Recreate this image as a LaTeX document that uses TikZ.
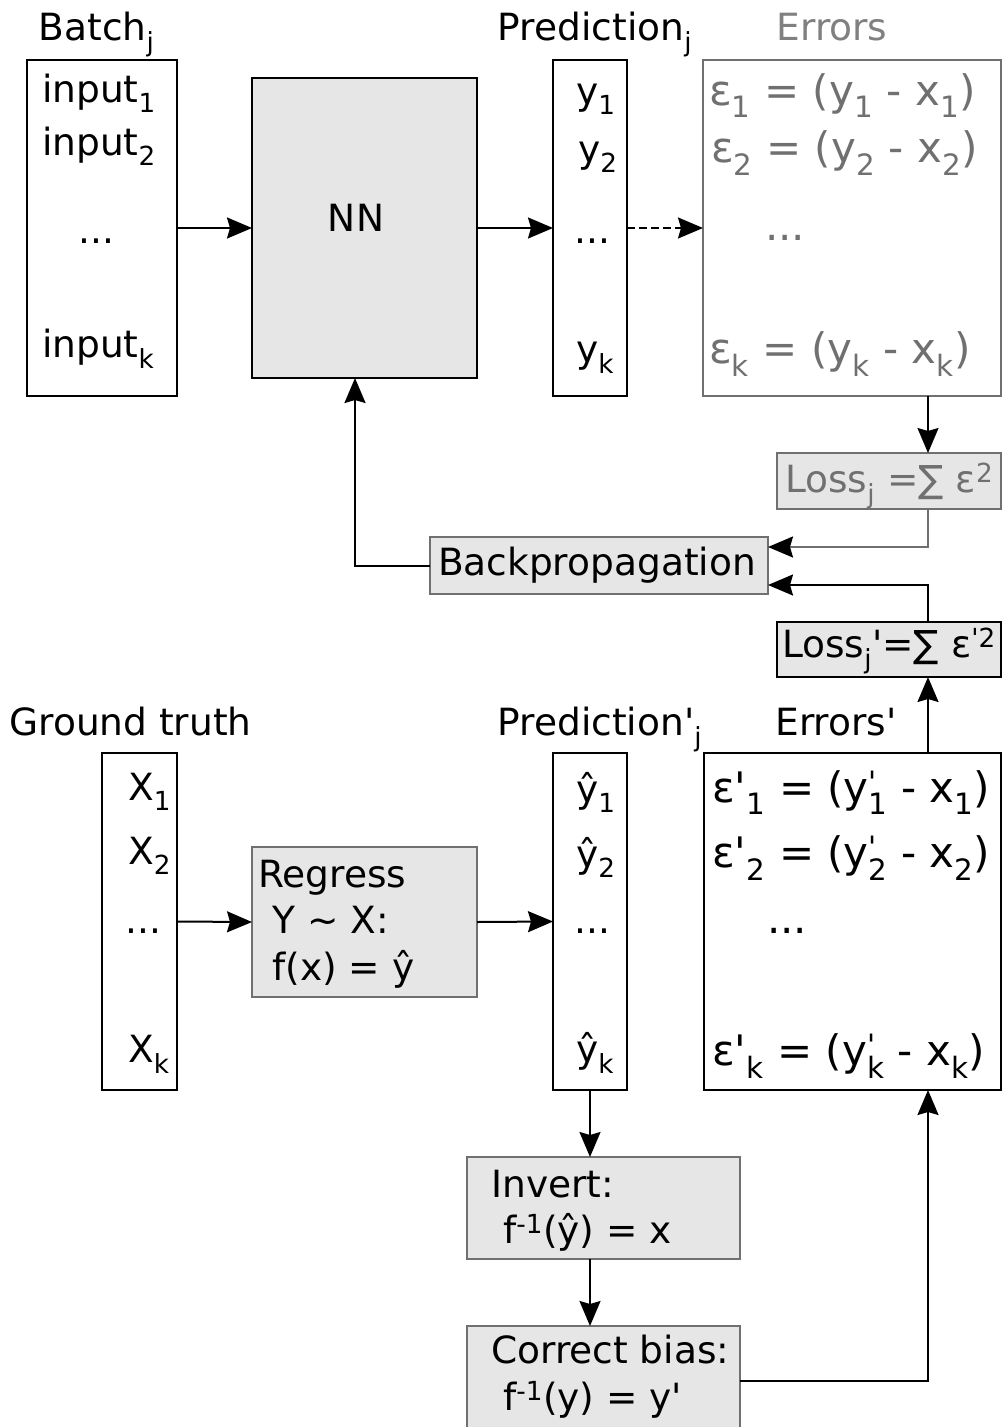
\documentclass[tikz,border=0pt]{standalone}
\usepackage{fontspec}
\newfontfamily\mainf{DejaVu Sans}
\usetikzlibrary{arrows.meta}
\definecolor{fillg}{RGB}{230,230,230}
\definecolor{txtg}{RGB}{112,112,112}
\definecolor{lblg}{RGB}{128,128,128}
\definecolor{brdg}{RGB}{112,112,112}
\newcommand{\sbsp}[2]{\makebox[0pt][l]{\textsuperscript{#1}}\textsubscript{#2}}
\newcommand{\fs}[1]{\mainf\fontsize{#1}{#1}\selectfont}
\begin{document}
\begin{tikzpicture}[x=1pt,y=-1pt, font=\fs{37.5},
  box/.style={draw, line width=2pt, inner sep=0pt, outer sep=0pt},
  gbox/.style={box, fill=fillg},
  tl/.style={anchor=base west, inner sep=0pt},
  lbl/.style={anchor=base, inner sep=0pt},
  big/.style={font=\fs{42}},
  arr/.style={line width=2pt, -{Stealth[length=25pt,width=21pt,inset=3pt,color=black]}},
]
\useasboundingbox (0,0) rectangle (1003,1427);
% ---- boxes
\node[box, minimum width=150pt, minimum height=336pt] (batch) at (102,228) {};
\node[gbox, minimum width=225pt, minimum height=300pt] (nn) at (364.5,228) {};
\node[box, minimum width=74pt, minimum height=336pt] (pred) at (590,228) {};
\node[box, draw=brdg, minimum width=298pt, minimum height=336pt] (err) at (852,228) {};
\node[gbox, draw=brdg, minimum width=224pt, minimum height=56pt] (loss) at (889,481) {};
\node[gbox, draw=brdg, minimum width=338pt, minimum height=57pt] (bp) at (599,565.5) {};
\node[gbox, minimum width=224pt, minimum height=55pt] (lossp) at (889,649.5) {};
\node[box, minimum width=297pt, minimum height=337pt] (errp) at (852.5,921.5) {};
\node[box, minimum width=75pt, minimum height=337pt] (gt) at (139.5,921.5) {};
\node[gbox, draw=brdg, minimum width=225pt, minimum height=150pt] (reg) at (364.5,922) {};
\node[box, minimum width=74pt, minimum height=337pt] (predp) at (590,921.5) {};
\node[gbox, draw=brdg, minimum width=273pt, minimum height=102pt] (inv) at (603.5,1208) {};
\node[gbox, draw=brdg, minimum width=273pt, minimum height=110pt] (cor) at (603.5,1381) {};
% ---- helper coordinates
\coordinate (cx) at (928,0);
\coordinate (bpa) at (768,547);
\coordinate (bpb) at (768,585);
\coordinate (nnin) at (355,378);
% ---- titles
\node[lbl] (tbatch) at (96.5,40) {Batch\textsubscript{j}};
\node[lbl] (tpred) at (595,40) {Prediction\textsubscript{j}};
\node[lbl, text=lblg] (terr) at (832,40) {Errors};
\node[lbl] (tgt) at (130.5,735) {Ground truth};
\node[lbl] (tpredp) at (600,735) {Prediction'\textsubscript{j}};
\node[lbl] (terrp) at (836,735) {Errors'};
% ---- batch contents
\node[tl] (in1) at (42,102) {input\textsubscript{1}};
\node[tl] (in2) at (42,155) {input\textsubscript{2}};
\node[tl] (ind) at (78,243) {...};
\node[tl] (ink) at (42,357) {input\textsubscript{k}};
\node[lbl] (nnt) at (356,231) {NN};
% ---- prediction contents
\node[tl] (y1) at (576,104) {y\textsubscript{1}};
\node[tl] (y2) at (578,162) {y\textsubscript{2}};
\node[tl] (yd) at (574,243) {...};
\node[tl] (yk) at (576,362) {y\textsubscript{k}};
% ---- errors contents
\node[tl, big, text=txtg] (e1) at (709,105) {ε\textsubscript{1} = (y\textsubscript{1} - x\textsubscript{1})};
\node[tl, big, text=txtg] (e2) at (711,162) {ε\textsubscript{2} = (y\textsubscript{2} - x\textsubscript{2})};
\node[tl, big, text=txtg] (ed) at (765,240) {...};
\node[tl, big, text=txtg] (ek) at (709,363) {ε\textsubscript{k} = (y\textsubscript{k} - x\textsubscript{k})};
% ---- loss boxes
\node[tl, text=txtg] (losst) at (785,492) {Loss\textsubscript{j} =∑ ε\textsuperscript{2}};
\node[lbl] (bpt) at (597,575) {Backpropagation};
\node[tl] (losspt) at (782,657) {Loss\textsubscript{j}'=∑ ε\textsuperscript{'2}};
% ---- ground truth
\node[tl] (x1) at (128,800) {X\textsubscript{1}};
\node[tl] (x2) at (128,864) {X\textsubscript{2}};
\node[tl] (xd) at (125,933) {...};
\node[tl] (xk) at (128,1062) {X\textsubscript{k}};
% ---- regress
\node[tl] (rg1) at (258,887) {Regress};
\node[tl] (rg2) at (272,933) {Y \textasciitilde{} X:};
\node[tl] (rg3) at (272,980) {f(x) = ŷ};
% ---- prediction'
\node[tl] (yh1) at (576,802) {ŷ\textsubscript{1}};
\node[tl] (yh2) at (576,867) {ŷ\textsubscript{2}};
\node[tl] (yhd) at (574,933) {...};
\node[tl] (yhk) at (576,1062) {ŷ\textsubscript{k}};
% ---- errors'
\node[tl, big] (ep1) at (712,802) {ε'\textsubscript{1} = (y\sbsp{'}{1} - x\textsubscript{1})};
\node[tl, big] (ep2) at (712,867) {ε'\textsubscript{2} = (y\sbsp{'}{2} - x\textsubscript{2})};
\node[tl, big] (epd) at (767,933) {...};
\node[tl, big] (epk) at (712,1065) {ε'\textsubscript{k} = (y\sbsp{'}{k} - x\textsubscript{k})};
% ---- invert / correct
\node[tl] (iv1) at (491,1197) {Invert:};
\node[tl] (iv2) at (503,1243) {f\textsuperscript{-1}(ŷ) = x};
\node[tl] (cb1) at (491,1363) {Correct bias:};
\node[tl] (cb2) at (503,1410) {f\textsuperscript{-1}(y) = y'};
% ---- connectors
\draw[arr] (batch.east) -- (nn.west);
\draw[arr] (nn.east) -- (pred.west);
\draw[arr, dash pattern=on 8pt off 4pt] (pred.east) -- (err.west);
\draw[arr] (err.south -| cx) -- (loss.north -| cx);
\draw[arr, draw=brdg] (loss.south -| cx) |- (bpa);
\draw[arr] (lossp.north -| cx) |- (bpb);
\draw[arr] (bp.west) -| (nnin);
\draw[arr] (errp.north -| cx) -- (lossp.south -| cx);
\draw[arr] (gt.east) -- (reg.west);
\draw[arr] (reg.east) -- (predp.west);
\draw[arr] (predp.south) -- (predp.south |- inv.north);
\draw[arr] (inv.south -| predp.south) -- (predp.south |- cor.north);
\draw[arr] (cor.east) -| (errp.south -| cx);
\end{tikzpicture}
\end{document}
